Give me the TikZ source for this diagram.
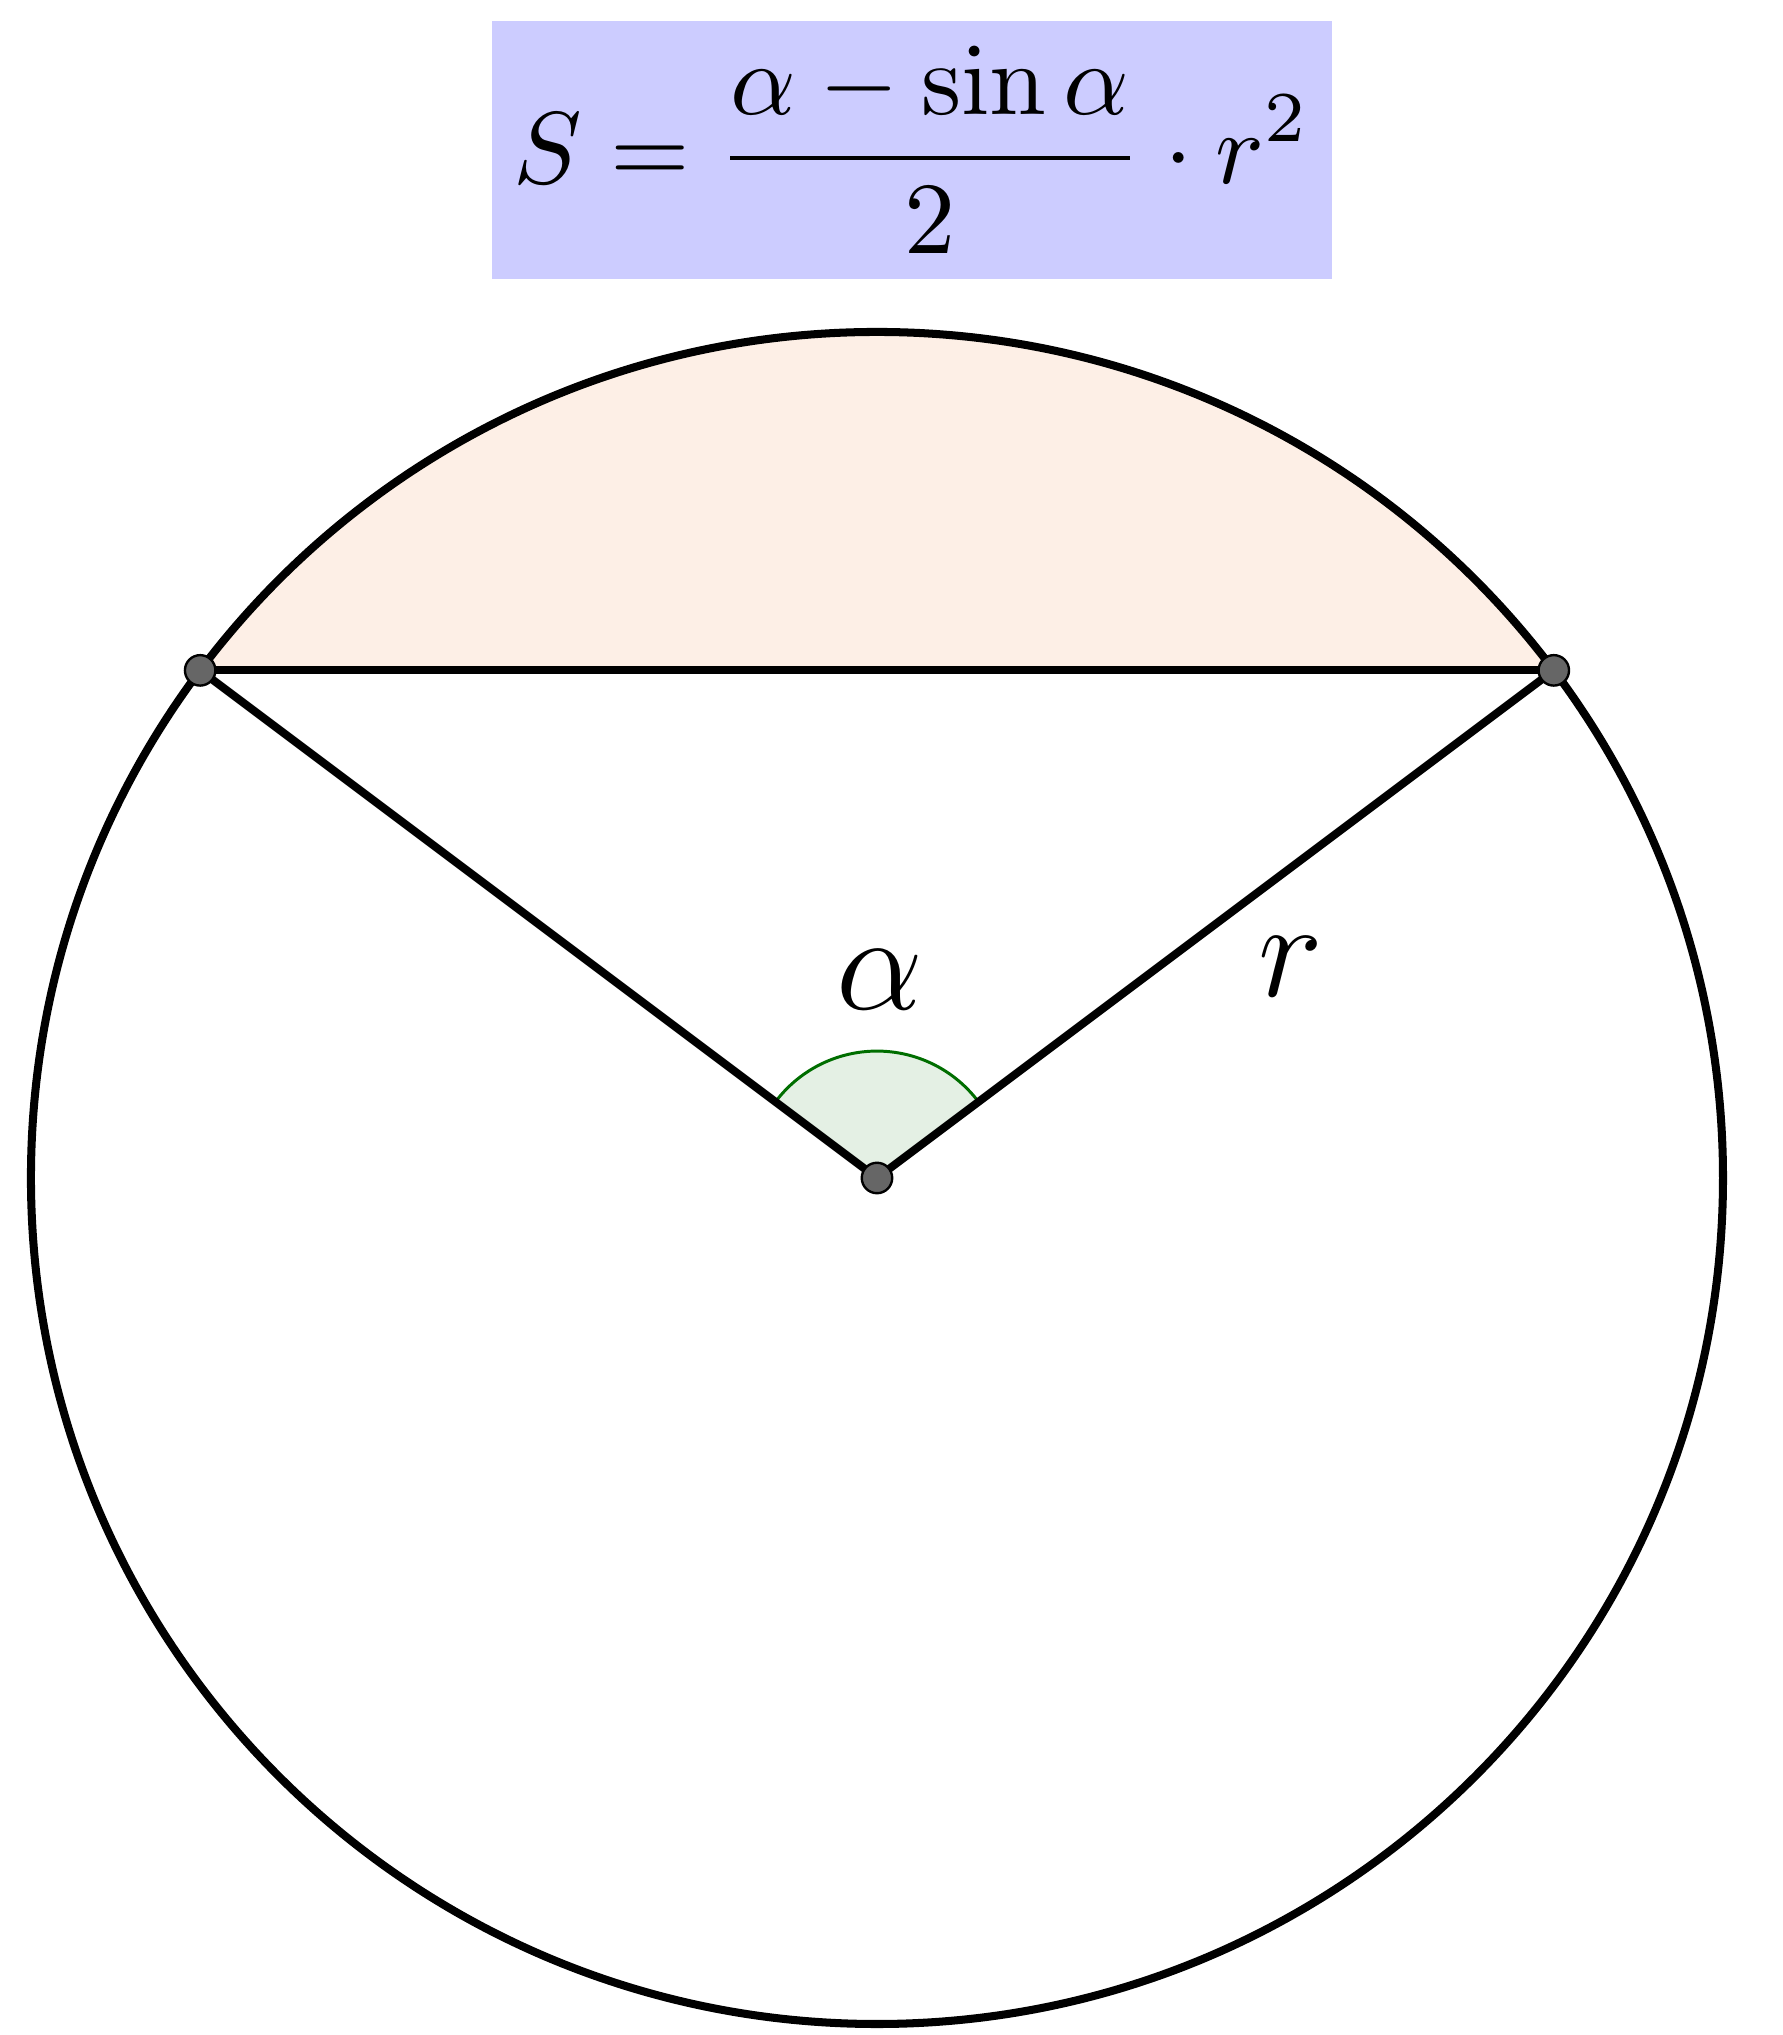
\documentclass[tikz,border=0pt]{standalone}
\usepackage{graphicx}
\definecolor{boxblue}{RGB}{204,204,255}
\definecolor{segfill}{RGB}{253,239,230}
\definecolor{angfill}{RGB}{228,240,228}
\definecolor{angline}{RGB}{0,110,0}
\tikzset{
  heavy/.style={line width=1.35pt, black},
  dot/.style={circle, fill=black!60, draw=black, line width=0.4pt, inner sep=0pt, minimum size=0.18cm},
  lab/.style={font=\huge, inner sep=0pt, scale=1.12}
}
\begin{document}
\begin{tikzpicture}
\useasboundingbox (-5.183,-5.065) rectangle (5.349,6.962);
\coordinate (O) at (0,0);
\coordinate (A) at (-4,3);
\coordinate (B) at (4,3);
% segment
\fill[segfill] (B) arc[start angle=36.87, end angle=143.13, radius=5] -- cycle;
% angle sector
\fill[angfill] (O) -- (36.87:0.75) arc[start angle=36.87, end angle=143.13, radius=0.75] -- cycle;
\draw[angline, line width=0.5pt] (36.87:0.75) arc[start angle=36.87, end angle=143.13, radius=0.75];
% circle and lines
\draw[heavy] (O) circle[radius=5];
\draw[heavy] (A) -- (B);
\draw[heavy] (A) -- (O) -- (B);
\node[dot] (pa) at (A) {};
\node[dot] (pb) at (B) {};
\node[dot] (po) at (O) {};
% labels
\node[lab] (alpha) at (0.02,1.17) {$\alpha$};
\node[lab] (r) at (2.447,1.247) {$r$};
% formula
\node[fill=boxblue, minimum width=4.964cm, minimum height=1.525cm, inner sep=0pt] (formula) at (0.207,6.076)
  {\scalebox{1.72}{$\displaystyle S=\frac{\alpha-\sin\alpha}{2}\cdot r^2$}};
\end{tikzpicture}
\end{document}
